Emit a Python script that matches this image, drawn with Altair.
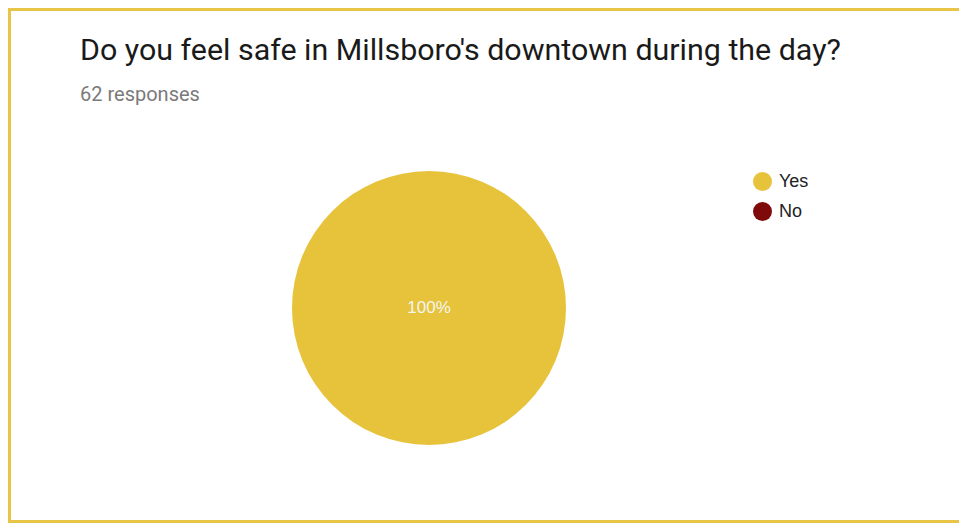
import altair as alt
import pandas as pd

categories = ["Yes", "No"]
counts = [62, 0]
colors = ["#e6c33a", "#7f0a0a"]
title_text = "Do you feel safe in Millsboro's downtown during the day?"
subtitle_text = "62 responses"

df = pd.DataFrame({"answer": categories, "count": counts, "order": [0, 1]})

W, H = 951, 515
border_color = "#e8c547"

base = alt.Chart(df)

pie = base.mark_arc(radius=137, stroke=None).encode(
    theta=alt.Theta("count:Q", stack=True),
    order=alt.Order("order:Q"),
    color=alt.Color(
        "answer:N",
        scale=alt.Scale(domain=categories, range=colors),
        sort=categories,
        legend=alt.Legend(
            title=None,
            orient="none",
            legendX=745,
            legendY=164,
            symbolType="circle",
            symbolSize=361,
            symbolStrokeWidth=0,
            labelFont="Liberation Sans",
            labelFontSize=18,
            labelColor="#222222",
            labelOffset=7,
            rowPadding=11,
            padding=0,
        ),
    ),
    x=alt.value(421),
    y=alt.value(300),
)

pct = base.transform_joinaggregate(total="sum(count)").transform_calculate(
    pct="round(datum.count / datum.total * 100) + '%'"
).transform_filter("datum.count > 0").mark_text(
    font="Liberation Sans", fontSize=17, color="#f4f4f4", baseline="middle", align="center"
).encode(text="pct:N", x=alt.value(421), y=alt.value(300))

title_df = pd.DataFrame({"t": [title_text]})
sub_df = pd.DataFrame({"t": [subtitle_text]})

title = alt.Chart(title_df).mark_text(
    font="Roboto", fontSize=30.4, color="#1a1a1a", align="left", baseline="alphabetic"
).encode(text="t:N", x=alt.value(72), y=alt.value(52))

subtitle = alt.Chart(sub_df).mark_text(
    font="Roboto", fontSize=20, color="#7a7a7a", align="left", baseline="alphabetic"
).encode(text="t:N", x=alt.value(72), y=alt.value(93))

border_df = pd.DataFrame({"k": [0]})
left_border = alt.Chart(border_df).mark_rect(color=border_color).encode(
    x=alt.value(0), x2=alt.value(3), y=alt.value(0), y2=alt.value(H)
)
top_border = alt.Chart(border_df).mark_rect(color=border_color).encode(
    x=alt.value(0), x2=alt.value(W), y=alt.value(0), y2=alt.value(3)
)
bottom_border = alt.Chart(border_df).mark_rect(color=border_color).encode(
    x=alt.value(0), x2=alt.value(W), y=alt.value(H - 3), y2=alt.value(H)
)

chart = alt.layer(
    left_border, top_border, bottom_border, pie, pct, title, subtitle
).properties(
    width=W, height=H, autosize=alt.AutoSizeParams(type="none"), padding=0, background="white"
).configure_view(stroke=None)

chart.save("out.html", embed_options={"renderer": "svg", "actions": False})
